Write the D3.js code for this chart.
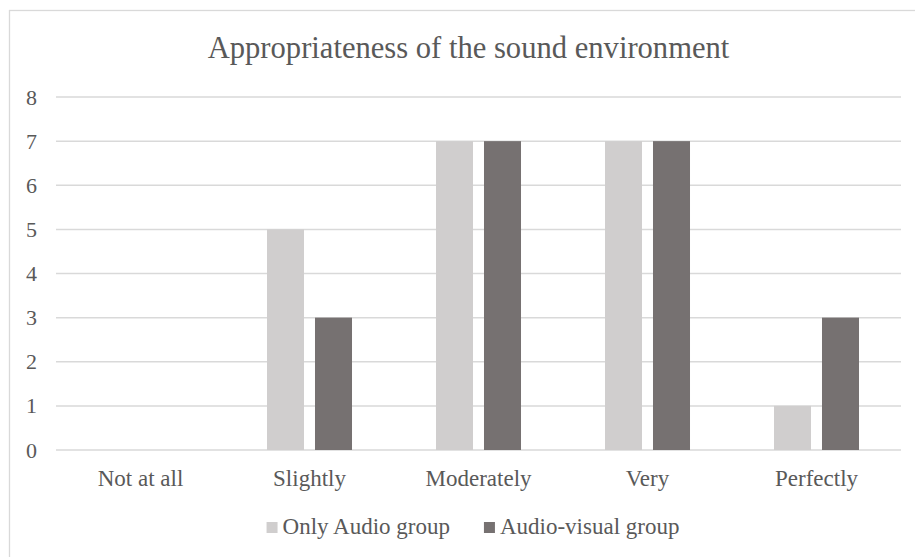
<!DOCTYPE html>
<html>
<head>
<meta charset="utf-8">
<script src="https://cdn.jsdelivr.net/npm/d3@7/dist/d3.min.js"></script>
<style>
  html, body { margin: 0; padding: 0; background: #ffffff; }
  svg { display: block; }
</style>
</head>
<body>
<svg id="chart" width="915" height="557"></svg>
<script>
// Survey answers: how appropriate the sound environment felt
const categories = ["Not at all", "Slightly", "Moderately", "Very", "Perfectly"];
const seriesNames = ["Only Audio group", "Audio-visual group"];
const onlyAudio = [0, 5, 7, 7, 1];
const audioVisual = [0, 3, 7, 7, 3];
const yTicks = [0, 1, 2, 3, 4, 5, 6, 7, 8];
const titleText = "Appropriateness of the sound environment";

const colors = ["#d0cece", "#767171"];
const seriesValues = [onlyAudio, audioVisual];
const FONT = "Liberation Serif";
const TEXT_COLOR = "#595959";

const svg = d3.select("#chart");
const W = 915, H = 557;
const plot = { left: 56, right: 901, top: 97, bottom: 450 };

function styleText(sel, size) {
  sel.style("font-family", FONT)
    .attr("font-family", FONT)
    .attr("font-size", size)
    .attr("fill", TEXT_COLOR);
}

// Chart frame
svg.append("rect")
  .attr("x", 9.5).attr("y", 10.5)
  .attr("width", W + 20).attr("height", H + 20)
  .attr("fill", "#ffffff")
  .attr("stroke", "#d9d9d9").attr("stroke-width", 1.3);

// Scales
const x0 = d3.scaleBand().domain(categories).range([plot.left, plot.right]).padding(0);
const x1 = d3.scaleBand().domain(seriesNames).range([0, x0.bandwidth()])
  .paddingInner(0.229).paddingOuter(0.875);
const y = d3.scaleLinear().domain([0, 8]).range([plot.bottom, plot.top]);

// Gridlines
svg.append("g").selectAll("line").data(yTicks).join("line")
  .attr("x1", plot.left).attr("x2", plot.right)
  .attr("y1", d => y(d)).attr("y2", d => y(d))
  .attr("stroke", "#d9d9d9").attr("stroke-width", 1.5);

// Y axis labels
const yAxis = d3.axisLeft(y).tickValues(yTicks).tickSize(0).tickPadding(0).tickFormat(d3.format("d"));
const gy = svg.append("g").attr("transform", "translate(37,0)").call(yAxis)
  .attr("font-family", FONT);
gy.select(".domain").remove();
styleText(gy.selectAll("text"), 22);

// Bars
const rows = categories.map((c, i) => ({ cat: c, vals: seriesNames.map((s, j) => ({ s, j, v: seriesValues[j][i] })) }));
const groups = svg.append("g").selectAll("g").data(rows).join("g")
  .attr("transform", d => `translate(${x0(d.cat)},0)`);
groups.selectAll("rect").data(d => d.vals.filter(e => e.v > 0)).join("rect")
  .attr("x", d => x1(d.s))
  .attr("width", x1.bandwidth())
  .attr("y", d => y(d.v))
  .attr("height", d => y(0) - y(d.v))
  .attr("fill", d => colors[d.j]);

// Category labels
const xAxis = d3.axisBottom(x0).tickSize(0).tickPadding(0);
const gx = svg.append("g").attr("transform", `translate(0,${plot.bottom})`).call(xAxis)
  .attr("font-family", FONT);
gx.select(".domain").remove();
gx.selectAll("text").attr("y", 36).attr("dy", null);
styleText(gx.selectAll("text"), 23);

// Title
const title = svg.append("text")
  .attr("x", 468.5).attr("y", 58)
  .attr("text-anchor", "middle")
  .text(titleText);
styleText(title, 30.6);

// Legend
const legend = svg.append("g");
const items = legend.selectAll("g").data(seriesNames).join("g");
items.append("rect")
  .attr("width", 11).attr("height", 11)
  .attr("y", 522)
  .attr("fill", (d, i) => colors[i]);
const legendText = items.append("text")
  .attr("x", 16).attr("y", 534)
  .text(d => d);
styleText(legendText, 23);
const widths = [];
items.each(function () {
  widths.push(this.querySelector("text").getComputedTextLength() + 16);
});
const gap = 34;
const total = widths.reduce((a, b) => a + b, 0) + gap * (widths.length - 1);
let start = 473 - total / 2;
items.attr("transform", (d, i) => {
  const t = `translate(${start},0)`;
  start += widths[i] + gap;
  return t;
});
</script>
</body>
</html>
